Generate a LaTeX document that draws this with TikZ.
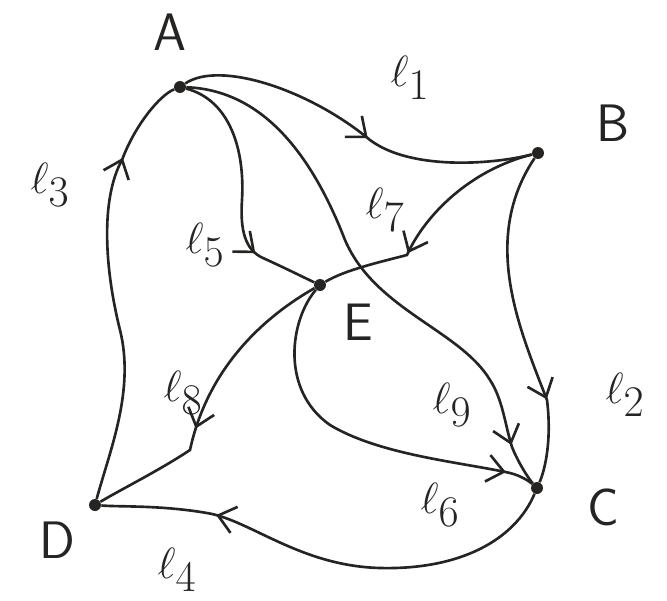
\documentclass[tikz,border=0pt]{standalone}
\definecolor{ink}{RGB}{38,36,34}
\usepackage{amsmath,amssymb}
\usepackage{tikz}
\usetikzlibrary{arrows.meta,decorations.markings}

\begin{document}
\begin{tikzpicture}[x=0.2mm,y=-0.2mm,
    vtx/.style={circle,fill=ink,inner sep=0pt,minimum size=2.4mm},
    lab/.style={font=\fontsize{30}{32}\selectfont,text=ink},
    elab/.style={font=\fontsize{36}{38}\selectfont,text=ink},
    hand/.style={draw=ink,line width=1.5pt},
    midarrow/.style={postaction={decorate},decoration={markings,
      mark=at position #1 with {\arrow{Straight Barb[length=3.3mm,width=5.4mm]}}}}]
  \useasboundingbox (0,0) rectangle (667,601);
  \node[vtx] (A) at (180,87) {};
  \node[vtx] (B) at (538,153) {};
  \node[vtx] (C) at (537,488) {};
  \node[vtx] (D) at (95,505) {};
  \node[vtx] (E) at (320,285) {};
  \node[lab] (labA) at (170,32) {\sffamily A};
  \node[lab] (labB) at (613,123) {\sffamily B};
  \node[lab] (labC) at (603,507) {\sffamily C};
  \node[lab] (labD) at (57,540) {\sffamily D};
  \node[lab] (labE) at (358,322) {\sffamily E};
  \draw[hand,midarrow=0.54] (A) .. controls (220,60) and (310,90) .. (370,140)
    .. controls (410,170) and (490,165) .. (B);
  \draw[hand,midarrow=0.75] (B) .. controls (480,240) and (520,330) .. (547,400)
    .. controls (552,440) and (545,470) .. (C);
  \draw[hand,midarrow=0.8] (D) .. controls (110,450) and (135,390) .. (120,330)
    .. controls (105,270) and (100,200) .. (122,160)
    .. controls (135,125) and (160,95) .. (A);
  \draw[hand,midarrow=0.755] (C) .. controls (515,540) and (460,570) .. (380,568)
    .. controls (300,566) and (250,520) .. (207,513)
    .. controls (160,505) and (120,507) .. (D);
  \draw[hand,midarrow=0.745] (A) .. controls (230,100) and (245,150) .. (242,200)
    .. controls (240,230) and (245,250) .. (263,258)
    .. controls (285,268) and (305,278) .. (E);
  \draw[hand,midarrow=0.92] (E) .. controls (290,320) and (280,390) .. (330,425)
    .. controls (380,455) and (460,462) .. (510,473)
    .. controls (522,476) and (530,482) .. (C);
  \draw[hand,midarrow=0.65] (B) .. controls (470,170) and (425,215) .. (407,255)
    .. controls (380,262) and (345,270) .. (E);
  \draw[hand,midarrow=0.6] (E) .. controls (250,325) and (205,380) .. (190,450)
    .. controls (160,470) and (120,490) .. (D);
  \draw[hand,midarrow=0.92] (A) .. controls (260,90) and (310,150) .. (345,240)
    .. controls (375,310) and (460,330) .. (490,380)
    .. controls (503,400) and (505,425) .. (512,447)
    .. controls (518,462) and (528,478) .. (C);
  \node[elab] (l1) at (410,78) {$\ell_1$};
  \node[elab] (l2) at (625,395) {$\ell_2$};
  \node[elab] (l3) at (50,185) {$\ell_3$};
  \node[elab] (l4) at (177,570) {$\ell_4$};
  \node[elab] (l5) at (205,245) {$\ell_5$};
  \node[elab] (l6) at (440,505) {$\ell_6$};
  \node[elab] (l7) at (385,210) {$\ell_7$};
  \node[elab] (l8) at (183,393) {$\ell_8$};
  \node[elab] (l9) at (452,405) {$\ell_9$};
\end{tikzpicture}
\end{document}
